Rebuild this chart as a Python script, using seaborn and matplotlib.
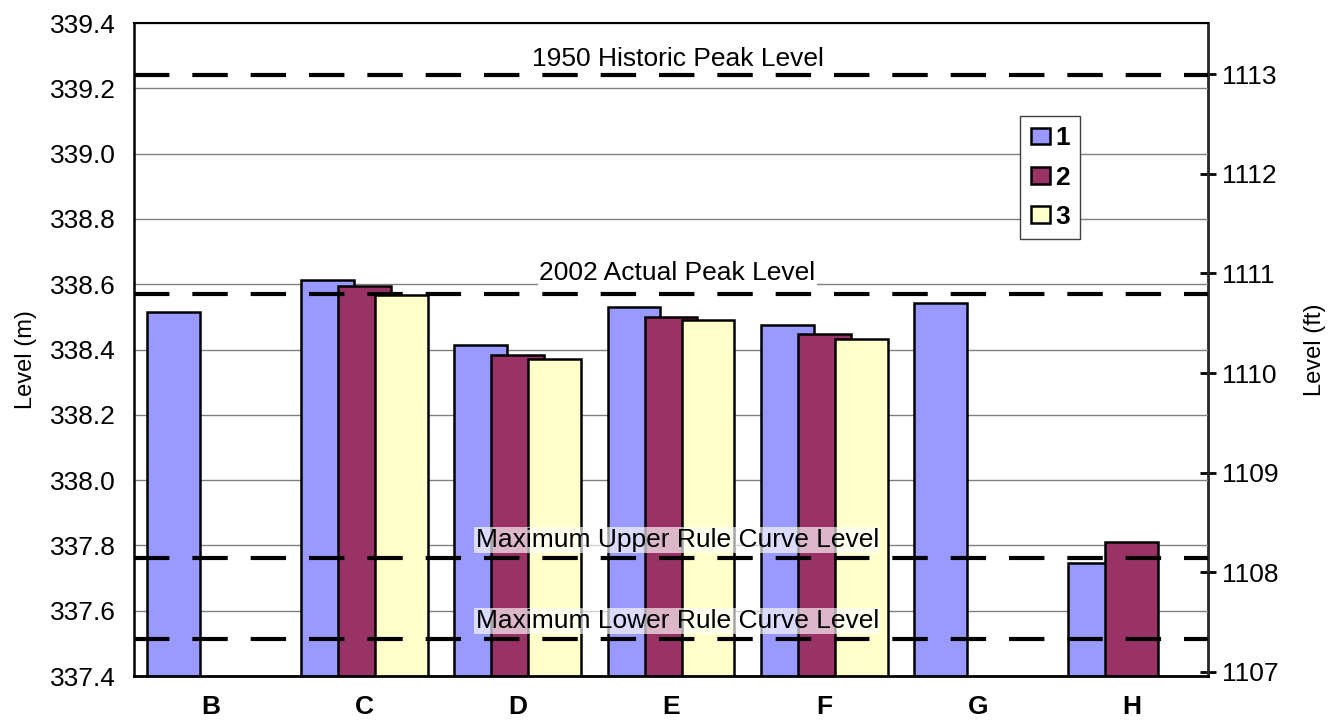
import numpy as np
import pandas as pd
import matplotlib
matplotlib.use("Agg")
import matplotlib.pyplot as plt
import seaborn as sns

# data
categories = ['B', 'C', 'D', 'E', 'F', 'G', 'H']
series_names = ['1', '2', '3']
level_1 = [338.516, 338.612, 338.413, 338.531, 338.476, 338.542, 337.745]
level_2 = [np.nan, 338.594, 338.383, 338.500, 338.447, np.nan, 337.810]
level_3 = [np.nan, 338.567, 338.370, 338.489, 338.433, np.nan, np.nan]

ref_names = ['1950 Historic Peak Level', '2002 Actual Peak Level',
             'Maximum Upper Rule Curve Level', 'Maximum Lower Rule Curve Level']
ref_levels = [339.241, 338.569, 337.760, 337.512]
ref_label_y = [339.290, 338.634, 337.817, 337.568]

colors = ['#9999FF', '#993366', '#FFFFCC']

sns.set_style('white')
plt.rcParams['font.family'] = ['Liberation Sans', 'DejaVu Sans']
plt.rcParams.update({'text.color': 'black', 'axes.labelcolor': 'black',
                     'xtick.color': 'black', 'ytick.color': 'black'})

# long-form table
rows = []
for name, vals in zip(series_names, [level_1, level_2, level_3]):
    for cat, v in zip(categories, vals):
        if not np.isnan(v):
            rows.append({'site': cat, 'run': name, 'level': v})
df = pd.DataFrame(rows)

fig = plt.figure(figsize=(13.34, 7.24), dpi=100)
ax = fig.add_axes([134 / 1334, 1 - 676 / 724, 1074 / 1334, 653 / 724])

sns.barplot(data=df, x='site', y='level', hue='run', order=categories,
            hue_order=series_names, palette=colors, width=0.723, dodge=True,
            edgecolor='black', linewidth=1.8, saturation=1, ax=ax,
            errorbar=None)

# widen the bars so neighbours overlap like the original
for p in ax.patches:
    w = p.get_width()
    if w == 0:
        continue
    cx = p.get_x() + w / 2
    p.set_width(0.345)
    p.set_x(cx - 0.345 / 2)

ax.set_ylim(337.4, 339.4)
ax.set_xlim(-0.5, len(categories) - 0.5)
ax.set_yticks(np.arange(337.4, 339.41, 0.2))
ax.set_yticklabels([f'{v:.1f}' for v in np.arange(337.4, 339.41, 0.2)], fontsize=19)
ax.yaxis.grid(True, color='#808080', linewidth=1)
ax.set_axisbelow(True)
ax.tick_params(axis='y', direction='out', length=7, width=1, color='#808080', pad=6)

ax.set_xticks(range(len(categories)))
ax.set_xticklabels(categories, fontsize=19, fontweight='bold')
ax.set_xticks(np.arange(-0.5, len(categories), 1), minor=True)
ax.tick_params(axis='x', which='major', length=0, pad=14)
ax.tick_params(axis='x', which='minor', length=9, width=1, color='#808080', direction='out')
ax.set_xlabel('')
ax.set_ylabel('Level (m)', fontsize=17)
ax.yaxis.set_label_coords(-0.090, 0.485)

for side in ['left', 'top', 'bottom']:
    ax.spines[side].set_visible(True)
    ax.spines[side].set_color('black')
ax.spines['left'].set_linewidth(1.8)
ax.spines['bottom'].set_linewidth(2)
ax.spines['top'].set_linewidth(1.5)
ax.spines['right'].set_visible(False)

# reference levels
for lvl, ly, name in zip(ref_levels, ref_label_y, ref_names):
    ax.axhline(lvl, color='black', linewidth=3, dashes=(8.5, 5.5), zorder=5)
    alpha = 1.0 if 'Peak' in name else 0.65
    ax.text(0.506, ly, name, transform=ax.get_yaxis_transform(), ha='center',
            va='center', fontsize=19, zorder=6,
            bbox=dict(facecolor='white', edgecolor='none', alpha=alpha, pad=1))

# secondary feet axis
m2ft = lambda m: m / 0.3048
ft2m = lambda f: f * 0.3048
sec = ax.secondary_yaxis('right', functions=(m2ft, ft2m))
sec.set_yticks(range(1107, 1114))
sec.tick_params(direction='inout', length=12, width=2, labelsize=19, pad=4)
sec.spines['right'].set_linewidth(2)
sec.set_ylabel('Level (ft)', fontsize=17, labelpad=18)

# legend
handles, labels = ax.get_legend_handles_labels()
leg = ax.legend(handles, labels, loc='upper left', bbox_to_anchor=(0.825, 0.858),
                borderaxespad=0, prop={'size': 19, 'weight': 'bold'}, frameon=True,
                fancybox=False, edgecolor='#404040', framealpha=1,
                labelspacing=0.58, handlelength=0.72, handleheight=0.6,
                handletextpad=0.2, borderpad=0.4, title=None)
leg.get_frame().set_linewidth(1)
leg.set_zorder(10)

fig.savefig('out.png', dpi=100)
